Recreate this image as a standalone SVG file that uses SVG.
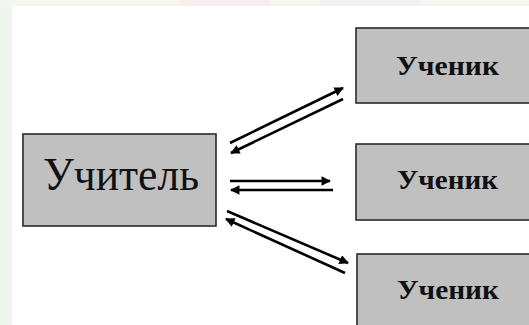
<svg xmlns="http://www.w3.org/2000/svg" width="529" height="325" viewBox="0 0 529 325">
<defs>
<marker id="ah" viewBox="0 0 10 10" refX="9" refY="5" markerWidth="4" markerHeight="3.6" orient="auto" markerUnits="strokeWidth">
<path d="M0,0 L10,5 L0,10 z" fill="#000"/>
</marker>
<style>
.box{fill:#c0c0c0;stroke:#2a2a2a;stroke-width:1.6}
.t{font-family:"Liberation Serif","Times New Roman",serif;fill:#111}
.s{font-size:27px;font-weight:bold}
.c{stroke:#000;stroke-width:2.6;fill:none;marker-end:url(#ah)}
</style>
</defs>
<rect x="0" y="0" width="529" height="325" fill="#ffffff"/>
<rect x="0" y="0" width="12" height="325" fill="#eef6ee"/>
<rect x="0" y="0" width="529" height="6" fill="#f4f6ef"/>
<rect x="180" y="0" width="90" height="6" fill="#f8eeee"/>
<rect x="320" y="0" width="100" height="6" fill="#f1f1f4"/>
<g id="teacher">
<rect class="box" x="23" y="134" width="193" height="92"/>
<text class="t" x="43" y="190" font-size="47" textLength="156" lengthAdjust="spacingAndGlyphs">Учитель</text>
</g>
<g id="student1">
<rect class="box" x="356" y="28" width="190" height="75"/>
<text class="t s" x="396" y="75" textLength="103" lengthAdjust="spacingAndGlyphs">Ученик</text>
</g>
<g id="student2">
<rect class="box" x="356" y="144" width="190" height="76"/>
<text class="t s" x="397" y="189" textLength="101" lengthAdjust="spacingAndGlyphs">Ученик</text>
</g>
<g id="student3">
<rect class="box" x="357" y="254" width="190" height="80"/>
<text class="t s" x="397" y="299" textLength="102" lengthAdjust="spacingAndGlyphs">Ученик</text>
</g>
<g id="connectors">
<line class="c" x1="230" y1="143" x2="343" y2="88"/>
<line class="c" x1="343" y1="99" x2="231" y2="153"/>
<line class="c" x1="230" y1="181" x2="330" y2="181"/>
<line class="c" x1="333" y1="190" x2="231" y2="190"/>
<line class="c" x1="227" y1="211" x2="348" y2="263"/>
<line class="c" x1="345" y1="273" x2="226" y2="219"/>
</g>
</svg>
